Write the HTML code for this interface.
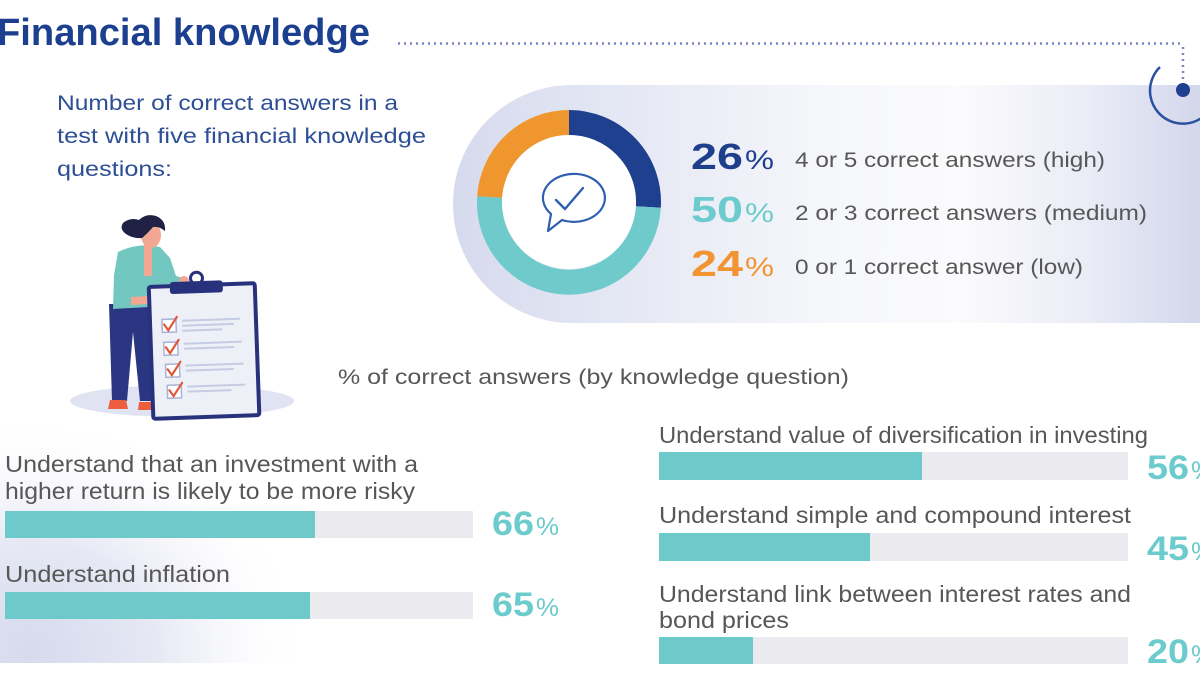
<!DOCTYPE html>
<html><head><meta charset="utf-8"><style>
html,body{margin:0;padding:0;background:#fff;width:1200px;height:675px;overflow:hidden}
svg{display:block}
text{font-family:"Liberation Sans",sans-serif}
</style></head><body>
<svg width="1200" height="675" viewBox="0 0 1200 675" xmlns="http://www.w3.org/2000/svg">
<defs>
<linearGradient id="pill" x1="453" y1="0" x2="1200" y2="0" gradientUnits="userSpaceOnUse">
<stop offset="0" stop-color="#d6daed"/>
<stop offset="0.2" stop-color="#e3e6f3"/>
<stop offset="0.5" stop-color="#f6f7fb"/>
<stop offset="0.68" stop-color="#fbfbfd"/>
<stop offset="0.85" stop-color="#eaecf6"/>
<stop offset="1" stop-color="#d3d7eb"/>
</linearGradient>
<radialGradient id="bl" cx="30" cy="650" r="280" gradientUnits="userSpaceOnUse" gradientTransform="translate(30 650) scale(1 0.85) translate(-30 -650)">
<stop offset="0" stop-color="#d6daed"/>
<stop offset="0.45" stop-color="#e6e8f4"/>
<stop offset="1" stop-color="#ffffff" stop-opacity="0"/>
</radialGradient>
</defs>
<rect width="1200" height="675" fill="#fff"/>

<!-- bottom-left panel -->
<rect x="0" y="400" width="360" height="263" fill="url(#bl)"/>

<!-- pill panel -->
<rect x="453" y="85" width="900" height="238" rx="119" ry="119" fill="url(#pill)"/>

<!-- title -->
<text x="-3" y="45" font-size="38" font-weight="bold" fill="#1c3f8f" textLength="373" lengthAdjust="spacingAndGlyphs">Financial knowledge</text>
<line x1="398" y1="43.5" x2="1183" y2="43.5" stroke="#7c84c3" stroke-width="2.5" stroke-dasharray="2 4"/>
<line x1="1183" y1="47" x2="1183" y2="82" stroke="#7c84c3" stroke-width="2.5" stroke-dasharray="2 4"/>
<path d="M1160,67 A33,33 0 1,0 1216,90" fill="none" stroke="#2a52a0" stroke-width="2.5"/>
<circle cx="1183" cy="90" r="7" fill="#1f3f8f"/>

<!-- subtitle -->
<g font-size="21" fill="#2d4f95">
<text x="57" y="110" textLength="341" lengthAdjust="spacingAndGlyphs">Number of correct answers in a</text>
<text x="57" y="143" textLength="369" lengthAdjust="spacingAndGlyphs">test with five financial knowledge</text>
<text x="57" y="176" textLength="115" lengthAdjust="spacingAndGlyphs">questions:</text>
</g>

<!-- donut -->
<g fill="none" stroke-width="25">
<path d="M569,122.5 A79.5,79.5 0 0,1 648.34,206.99" stroke="#1f3f8f"/>
<path d="M648.34,206.99 A79.5,79.5 0 1,1 489.66,197.01" stroke="#6fcacb"/>
<path d="M489.66,197.01 A79.5,79.5 0 0,1 569,122.5" stroke="#f0962f"/>
</g>
<circle cx="569" cy="202" r="67" fill="#fff"/>
<!-- speech bubble -->
<path d="M551,214 A31,24 0 1,1 562,220 L548,231 Z" fill="none" stroke="#2f5fb0" stroke-width="2.2" stroke-linejoin="round"/>
<path d="M556,200 L565,209 L583,188" fill="none" stroke="#2f5fb0" stroke-width="2.4" stroke-linecap="round" stroke-linejoin="round"/>

<!-- legend -->
<text x="691" y="169" font-size="36" font-weight="bold" fill="#1e3f8c" textLength="52" lengthAdjust="spacingAndGlyphs">26</text>
<text x="745" y="169" font-size="27" fill="#1e3f8c" textLength="29" lengthAdjust="spacingAndGlyphs">%</text>
<text x="795" y="167" font-size="21" fill="#575757" textLength="310" lengthAdjust="spacingAndGlyphs">4 or 5 correct answers (high)</text>

<text x="691" y="222" font-size="36" font-weight="bold" fill="#6ccbcc" textLength="52" lengthAdjust="spacingAndGlyphs">50</text>
<text x="745" y="222" font-size="27" fill="#6ccbcc" textLength="29" lengthAdjust="spacingAndGlyphs">%</text>
<text x="795" y="220" font-size="21" fill="#575757" textLength="352" lengthAdjust="spacingAndGlyphs">2 or 3 correct answers (medium)</text>

<text x="691" y="276" font-size="36" font-weight="bold" fill="#f29432" textLength="52" lengthAdjust="spacingAndGlyphs">24</text>
<text x="745" y="276" font-size="27" fill="#f29432" textLength="29" lengthAdjust="spacingAndGlyphs">%</text>
<text x="795" y="274" font-size="21" fill="#575757" textLength="288" lengthAdjust="spacingAndGlyphs">0 or 1 correct answer (low)</text>

<!-- illustration -->
<ellipse cx="182" cy="401" rx="112" ry="16" fill="#e0e3f1"/>
<!-- pants -->
<path d="M109,304 L153,304 L154,401 L140,401 L133,332 L127,401 L112,401 Z" fill="#2b3683"/>
<!-- shoes -->
<path d="M110,400 L126,400 L128,409 L108,409 Z" fill="#ec5e3d"/>
<path d="M139,402 L154,402 L159,410 L138,410 Z" fill="#ec5e3d"/>
<!-- shirt -->
<path d="M118,252 Q138,242 160,247 L170,258 L176,276 L183,278 L183,286 L168,288 L166,306 L113,309 L114,275 Z" fill="#72c7c0"/>
<!-- skin -->
<ellipse cx="151" cy="235" rx="10" ry="13" fill="#f2a792"/>
<path d="M144,242 L152,242 L152,276 L144,276 Z" fill="#f2a792"/>
<path d="M131,297 L148,296 L148,304 L131,305 Z" fill="#f2a792"/>
<circle cx="184" cy="281" r="5" fill="#f2a792"/>
<!-- hair -->
<path d="M126,234 Q119,229 123,223 Q130,217 139,220 Q146,213 156,216 Q166,220 165,231 Q159,226 153,227 Q148,233 142,238 Q133,239 126,234 Z" fill="#1f2244"/>
<!-- clipboard -->
<g transform="rotate(-2 204 350)">
<rect x="151" y="285" width="106" height="132" rx="2" fill="#eef0f8" stroke="#28327c" stroke-width="4"/>
<circle cx="199" cy="278" r="6" fill="none" stroke="#28327c" stroke-width="3"/>
<rect x="172" y="281" width="53" height="12" rx="3" fill="#28327c"/>
<g fill="#fff" stroke="#aab2d6" stroke-width="1.5">
<rect x="163" y="318" width="14" height="13"/>
<rect x="164" y="341" width="14" height="13"/>
<rect x="165" y="363" width="14" height="13"/>
<rect x="166" y="384" width="14" height="13"/>
</g>
<g fill="none" stroke="#e05a3a" stroke-width="2.2" stroke-linecap="round">
<path d="M165,323 L169,329 L178,316"/>
<path d="M166,346 L170,352 L179,339"/>
<path d="M167,368 L171,374 L180,361"/>
<path d="M168,389 L172,395 L181,382"/>
</g>
<g fill="#c5cbe2">
<rect x="183" y="319" width="58" height="2"/><rect x="183" y="324" width="52" height="2"/><rect x="183" y="329" width="40" height="2"/>
<rect x="184" y="342" width="58" height="2"/><rect x="184" y="347" width="50" height="2"/>
<rect x="185" y="364" width="58" height="2"/><rect x="185" y="369" width="48" height="2"/>
<rect x="186" y="385" width="58" height="2"/><rect x="186" y="390" width="44" height="2"/>
</g>
</g>

<!-- bars header -->
<text x="338" y="384" font-size="21" fill="#575757" textLength="511" lengthAdjust="spacingAndGlyphs">% of correct answers (by knowledge question)</text>

<!-- left bars -->
<g font-size="23" fill="#575757">
<text x="5" y="472" textLength="413" lengthAdjust="spacingAndGlyphs">Understand that an investment with a</text>
<text x="5" y="499" textLength="410" lengthAdjust="spacingAndGlyphs">higher return is likely to be more risky</text>
<text x="5" y="582" textLength="225" lengthAdjust="spacingAndGlyphs">Understand inflation</text>
</g>
<rect x="5" y="511" width="468" height="27" fill="#ebebef"/>
<rect x="5" y="511" width="310" height="27" fill="#6dc9ca"/>
<rect x="5" y="592" width="468" height="27" fill="#ebebef"/>
<rect x="5" y="592" width="305" height="27" fill="#6dc9ca"/>
<text x="492" y="535" font-size="34" font-weight="bold" fill="#6ccbcc" textLength="42" lengthAdjust="spacingAndGlyphs">66</text>
<text x="536" y="535" font-size="25" fill="#6ccbcc" textLength="23" lengthAdjust="spacingAndGlyphs">%</text>
<text x="492" y="616" font-size="34" font-weight="bold" fill="#6ccbcc" textLength="42" lengthAdjust="spacingAndGlyphs">65</text>
<text x="536" y="616" font-size="25" fill="#6ccbcc" textLength="23" lengthAdjust="spacingAndGlyphs">%</text>

<!-- right bars -->
<g font-size="23" fill="#575757">
<text x="659" y="443" textLength="489" lengthAdjust="spacingAndGlyphs">Understand value of diversification in investing</text>
<text x="659" y="523" textLength="472" lengthAdjust="spacingAndGlyphs">Understand simple and compound interest</text>
<text x="659" y="602" textLength="472" lengthAdjust="spacingAndGlyphs">Understand link between interest rates and</text>
<text x="659" y="628" textLength="130" lengthAdjust="spacingAndGlyphs">bond prices</text>
</g>
<rect x="659" y="452" width="469" height="28" fill="#ebebef"/>
<rect x="659" y="452" width="263" height="28" fill="#6dc9ca"/>
<rect x="659" y="533" width="469" height="28" fill="#ebebef"/>
<rect x="659" y="533" width="211" height="28" fill="#6dc9ca"/>
<rect x="659" y="637" width="469" height="27" fill="#ebebef"/>
<rect x="659" y="637" width="94" height="27" fill="#6dc9ca"/>
<text x="1147" y="479" font-size="34" font-weight="bold" fill="#6ccbcc" textLength="42" lengthAdjust="spacingAndGlyphs">56</text>
<text x="1191" y="479" font-size="25" fill="#6ccbcc" textLength="23" lengthAdjust="spacingAndGlyphs">%</text>
<text x="1147" y="560" font-size="34" font-weight="bold" fill="#6ccbcc" textLength="42" lengthAdjust="spacingAndGlyphs">45</text>
<text x="1191" y="560" font-size="25" fill="#6ccbcc" textLength="23" lengthAdjust="spacingAndGlyphs">%</text>
<text x="1147" y="663" font-size="34" font-weight="bold" fill="#6ccbcc" textLength="42" lengthAdjust="spacingAndGlyphs">20</text>
<text x="1191" y="663" font-size="25" fill="#6ccbcc" textLength="23" lengthAdjust="spacingAndGlyphs">%</text>
</svg>
</body></html>
